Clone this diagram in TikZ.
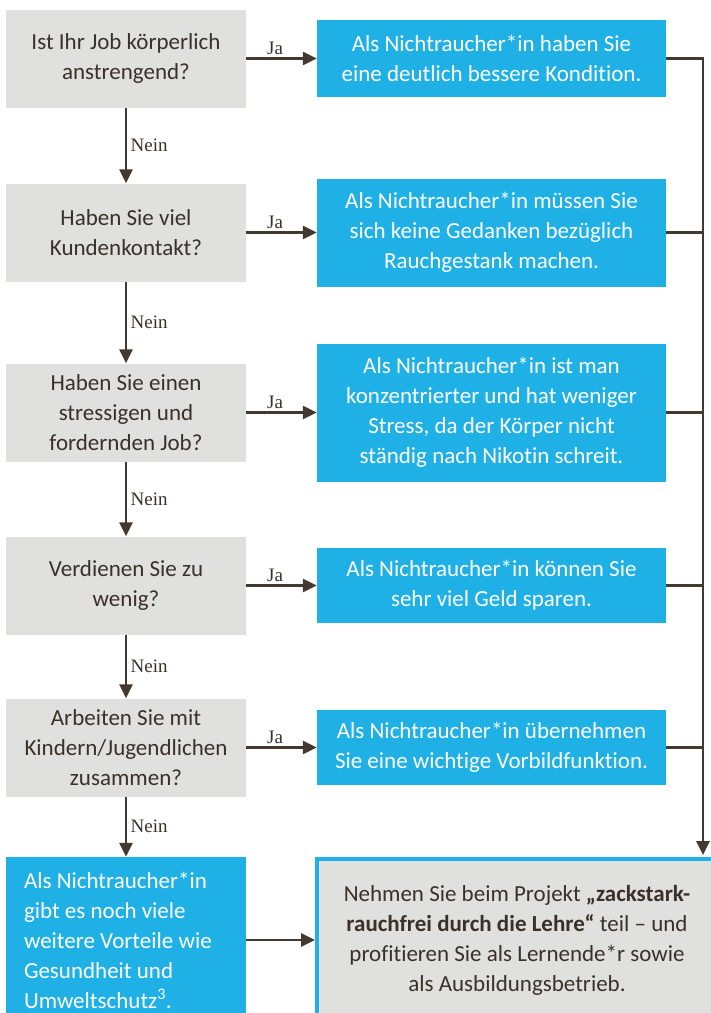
\documentclass[tikz,border=0pt]{standalone}
\usepackage{fontspec}
\setmainfont{Carlito}[Ligatures=NoCommon]
\newfontfamily\labelfont{Liberation Serif}
\usetikzlibrary{arrows.meta}

\definecolor{boxgrey}{HTML}{E0E0DE}
\definecolor{boxblue}{HTML}{1FB1E6}
\definecolor{linebrown}{HTML}{43392F}
\definecolor{textdark}{HTML}{3A3129}

\newcommand{\flowfont}{\fontsize{23}{30}\selectfont}

\begin{document}
\begin{tikzpicture}[x=1pt, y=-1pt,
    question/.style={fill=boxgrey, text=textdark, minimum width=240pt, minimum height=98pt,
        align=center, inner sep=0pt, font=\flowfont},
    answer/.style={fill=boxblue, text=white, minimum width=349pt,
        align=center, inner sep=0pt, font=\flowfont},
    flow/.style={draw=linebrown, line width=2.8pt, -{Triangle[length=14pt,width=13pt]}},
    rail/.style={draw=linebrown, line width=2.8pt},
    lbl/.style={font=\labelfont\fontsize{19}{21}\selectfont, text=textdark}]
    \useasboundingbox (0,0) rectangle (711,1013);

    % Questions
    \node[question] (q1) at (126,58.5) {Ist Ihr Job körperlich\\anstrengend?};
    \node[question] (q2) at (126,232.5) {Haben Sie viel\\Kundenkontakt?};
    \node[question] (q3) at (126,412.5) {Haben Sie einen\\stressigen und\\fordernden Job?};
    \node[question] (q4) at (126,585.5) {Verdienen Sie zu\\wenig?};
    \node[question] (q5) at (126,747.5) {Arbeiten Sie mit\\Kindern/Jugendlichen\\zusammen?};
    \node[answer, minimum width=240pt, minimum height=166pt, text width=204pt, align=flush left, inner xsep=18pt]
        (q6) at (126,940) {Als Nichtraucher*in\\gibt es noch viele\\weitere Vorteile wie\\Gesundheit und\\Umweltschutz\textsuperscript{3}.};

    % Answers
    \node[answer, minimum height=77pt] (r1) at (491.5,58.5)
        {Als Nichtraucher*in haben Sie\\eine deutlich bessere Kondition.};
    \node[answer, minimum height=108pt] (r2) at (491.5,232.5)
        {Als Nichtraucher*in müssen Sie\\sich keine Gedanken bezüglich\\Rauchgestank machen.};
    \node[answer, minimum height=138pt] (r3) at (491.5,412.5)
        {Als Nichtraucher*in ist man\\konzentrierter und hat weniger\\Stress, da der Körper nicht\\ständig nach Nikotin schreit.};
    \node[answer, minimum height=75pt] (r4) at (491.5,585.5)
        {Als Nichtraucher*in können Sie\\sehr viel Geld sparen.};
    \node[answer, minimum height=75pt] (r5) at (491.5,747.5)
        {Als Nichtraucher*in übernehmen\\Sie eine wichtige Vorbildfunktion.};

    % Final box
    \node[fill=boxgrey, draw=boxblue, line width=4pt, text=textdark, font=\flowfont,
        align=center, minimum width=400pt, minimum height=162pt, inner sep=0pt]
        (f) at (517,940) {Nehmen Sie beim Projekt \textbf{„zackstark-}\\\textbf{rauchfrei durch die Lehre“} teil – und\\profitieren Sie als Lernende*r sowie\\als Ausbildungsbetrieb.};

    % Nein arrows
    \foreach \a/\b in {q1/q2,q2/q3,q3/q4,q4/q5,q5/q6}
        \draw[flow] (\a) -- node[right, lbl] {Nein} (\b);

    % Ja arrows
    \foreach \i in {1,...,5}
        \draw[flow] (q\i) -- node[above, lbl, pos=0.41, inner sep=2pt] {Ja} (r\i);

    % Rail to final box
    \coordinate (railtop) at (703,58.5);
    \coordinate (railend) at (703,855);
    \draw[flow, line join=miter] (r1.east) -- (railtop) -- (railend);
    \foreach \i in {2,...,5}
        \draw[rail] (r\i.east) -- (r\i.east -| railtop);

    \draw[flow] (q6) -- (f);
\end{tikzpicture}
\end{document}
